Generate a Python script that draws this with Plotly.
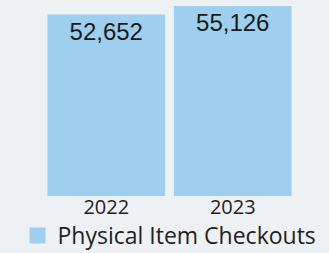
import plotly.graph_objects as go

categories = ["2022", "2023"]
checkouts = [52652, 55126]
value_labels = ["52,652", "55,126"]
series_name = "Physical Item Checkouts"

bg = "#edf1f4"
bar_color = "#9ecfee"

fig = go.Figure()
fig.add_trace(go.Bar(
    x=categories, y=checkouts, name=series_name,
    marker=dict(color=bar_color, line=dict(width=0)),
    text=value_labels, textposition="inside", insidetextanchor="end",
    textfont=dict(family="Liberation Sans", size=24, color="#1a1a1a"),
    textangle=0, showlegend=False,
))
# legend entry with a larger square swatch matching the bars
fig.add_trace(go.Scatter(
    x=[None], y=[None], mode="markers", name=series_name,
    marker=dict(symbol="square", size=16, color=bar_color),
    showlegend=True, hoverinfo="skip",
))

fig.update_layout(
    width=329, height=253,
    margin=dict(l=43, r=33, t=6, b=57, autoexpand=False),
    paper_bgcolor=bg, plot_bgcolor=bg,
    bargap=0.07,
    showlegend=True,
    legend=dict(orientation="h", x=0.5, xanchor="center", y=-0.095, yanchor="top",
                font=dict(family="Open Sans", size=23, color="#222222"),
                bgcolor="rgba(0,0,0,0)", itemwidth=30),
    xaxis=dict(type="category", showgrid=False, showline=False, ticks="",
               tickfont=dict(family="Open Sans", size=20, color="#222222"),
               ticklabelstandoff=-3),
    yaxis=dict(range=[0, max(checkouts)], visible=False, showgrid=False),
)
fig.write_html("out.html", config={"displayModeBar": False},
               post_script="document.body.style.margin='0';document.body.style.background='%s';" % bg)
